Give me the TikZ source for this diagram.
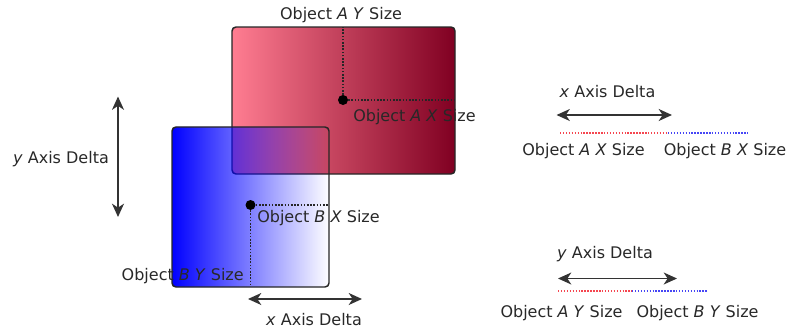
\documentclass[tikz,border=0pt]{standalone}
\usepackage{fontspec}
\setmainfont{DejaVu Sans}
\usetikzlibrary{arrows.meta,fadings}
\tikzfading[name=fadeB, left color=transparent!0, right color=transparent!100]
\definecolor{redL}{RGB}{255,125,145}
\definecolor{redR}{RGB}{128,0,34}
\definecolor{txt}{RGB}{40,40,40}
\definecolor{dotred}{RGB}{245,70,80}
\definecolor{dotblue}{RGB}{70,70,245}
\tikzset{
  lbl/.style={inner sep=0pt, text=txt, font=\fontsize{12}{14}\selectfont},
  objbox/.style={draw=black!85, line width=1.1pt, rounded corners=3pt},
  dimdot/.style={black!85, line width=1.2pt, dash pattern=on 1.2pt off 1.2pt},
  dimarrow/.style={black!80, line width=1.1pt, {Stealth[length=10pt,width=9pt,inset=3pt]}-{Stealth[length=10pt,width=9pt,inset=3pt]}},
  cdotred/.style={dotred, line width=1.1pt, dash pattern=on 1.1pt off 1.1pt},
  cdotblue/.style={dotblue, line width=1.1pt, dash pattern=on 1.1pt off 1.1pt},
  ctr/.style={circle, fill=black, inner sep=0pt, minimum size=7.5pt}
}
\begin{document}
\begin{tikzpicture}[x=0.75pt,y=-0.75pt]
\useasboundingbox (0,0) rectangle (789,329);
% red object A
\shade[left color=redL, right color=redR, rounded corners=3pt] (232,27) rectangle (455,174);
\draw[objbox] (232,27) rectangle (455,174);
\node[ctr] (ca) at (343,100) {};
\coordinate (atop) at (343,27);
\coordinate (aright) at (455,100);
\draw[dimdot] (ca) -- (atop);
\draw[dimdot] (ca) -- (aright);
% blue object B
\fill[blue, path fading=fadeB, rounded corners=3pt] (172,127) rectangle (329,287);
\draw[objbox] (172,127) rectangle (329,287);
\node[ctr] (cb) at (250.5,205) {};
\coordinate (bright) at (328,205);
\coordinate (bbot) at (250.5,287);
\draw[dimdot] (cb) -- (bright);
\draw[dimdot] (cb) -- (bbot);
% labels
\node[lbl] (ay) at (341,15) {Object \textit{A} \textit{Y} Size};
\node[lbl, anchor=west] (ax) at (353,117.5) {Object \textit{A} \textit{X} Size};
\node[lbl, anchor=west] (bx) at (257,218) {Object \textit{B} \textit{X} Size};
\node[lbl, anchor=east] (by) at (244,276) {Object \textit{B} \textit{Y} Size};
% x axis delta bottom
\coordinate (xd1) at (248,299);
\coordinate (xd2) at (362,299);
\draw[dimarrow] (xd1) -- (xd2);
\node[lbl] (xdl) at (314,320) {\textit{x} Axis Delta};
% y axis delta left
\coordinate (yd1) at (118,96.5);
\coordinate (yd2) at (118,217);
\draw[dimarrow] (yd1) -- (yd2);
\node[lbl] (ydl) at (61,159) {\textit{y} Axis Delta};
% right top
\node[lbl] (rxl) at (607.5,91.5) {\textit{x} Axis Delta};
\coordinate (rx1) at (556.5,115);
\coordinate (rx2) at (672,115);
\draw[dimarrow] (rx1) -- (rx2);
\coordinate (rxa) at (560,133);
\coordinate (rxm) at (668,133);
\coordinate (rxb) at (748,133);
\draw[cdotred] (rxa) -- (rxm);
\draw[cdotblue] (rxm) -- (rxb);
\node[lbl] (rax) at (583.5,151) {Object \textit{A} \textit{X} Size};
\node[lbl] (rbx) at (725,151) {Object \textit{B} \textit{X} Size};
% right bottom
\node[lbl] (ryl) at (605,254) {\textit{y} Axis Delta};
\coordinate (ry1) at (558,278.5);
\coordinate (ry2) at (677,278.5);
\draw[dimarrow] (ry1) -- (ry2);
\coordinate (rya) at (558,291);
\coordinate (rym) at (632,291);
\coordinate (ryb) at (708,291);
\draw[cdotred] (rya) -- (rym);
\draw[cdotblue] (rym) -- (ryb);
\node[lbl] (ray) at (561.5,313) {Object \textit{A} \textit{Y} Size};
\node[lbl] (rby) at (697.5,313) {Object \textit{B} \textit{Y} Size};
\end{tikzpicture}
\end{document}
